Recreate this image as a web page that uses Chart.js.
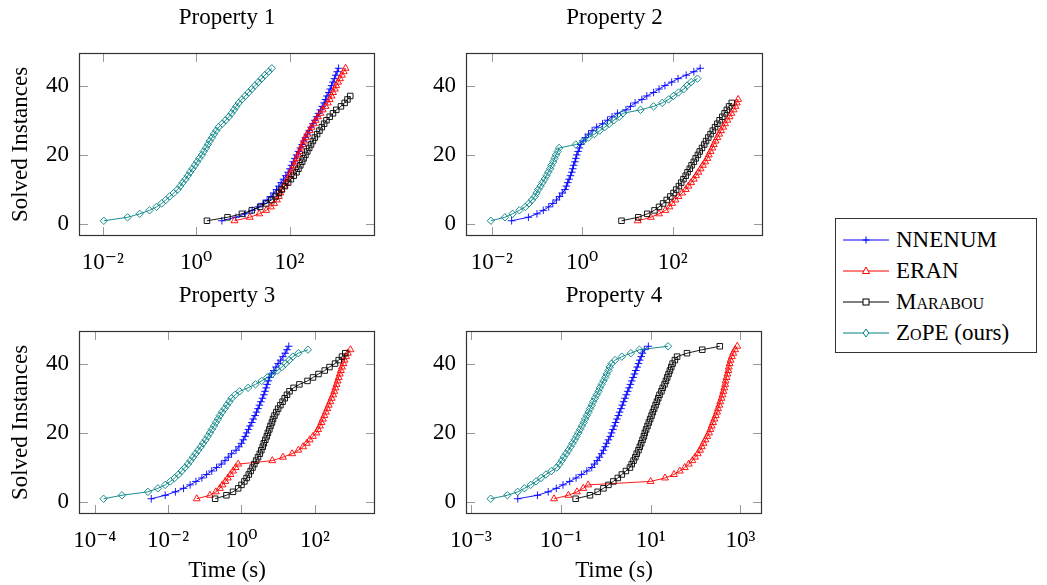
<!DOCTYPE html>
<html><head><meta charset="utf-8">
<script src="https://cdn.jsdelivr.net/npm/chart.js@4"></script>
<style>
html,body{margin:0;padding:0;background:#fff;overflow:hidden;width:1047px;height:585px;}
canvas.c{position:absolute;}
#legend{position:absolute;left:835px;top:218px;width:202px;height:135px;border:1px solid #333;box-sizing:border-box;font-family:'Liberation Serif','DejaVu Serif',serif;font-size:23px;color:#000;background:#fff;}
.row{position:absolute;left:7px;height:30px;display:flex;align-items:center;white-space:nowrap;}
.row svg{width:46px;height:14px;margin-right:7px;flex:none;}
.sc{font-variant:small-caps;}
</style></head><body>
<canvas id="c1" class="c" width="454" height="282" style="left:0px;top:0px;width:454px;height:282px"></canvas>
<canvas id="c2" class="c" width="417" height="282" style="left:406px;top:0px;width:417px;height:282px"></canvas>
<canvas id="c3" class="c" width="454" height="307" style="left:0px;top:278px;width:454px;height:307px"></canvas>
<canvas id="c4" class="c" width="416" height="307" style="left:406px;top:278px;width:416px;height:307px"></canvas>
<div id="legend">
  <div class="row" style="top:6px"><svg viewBox="0 0 46 14"><line x1="0" y1="7" x2="46" y2="7" stroke="#0000ff" stroke-width="1"/><path d="M19.5 7 H26.5 M23 3.5 V10.5" stroke="#0000ff" stroke-width="1"/></svg><span>NNENUM</span></div>
  <div class="row" style="top:37px"><svg viewBox="0 0 46 14"><line x1="0" y1="7" x2="46" y2="7" stroke="#ff0000" stroke-width="1"/><path d="M23 3 L26.5 9.5 L19.5 9.5 Z" fill="#fff" stroke="#ff0000" stroke-width="1"/></svg><span>ERAN</span></div>
  <div class="row" style="top:68px"><svg viewBox="0 0 46 14"><line x1="0" y1="7" x2="46" y2="7" stroke="#000" stroke-width="1"/><rect x="20" y="4" width="6" height="6" fill="#fff" stroke="#000" stroke-width="1"/></svg><span class="sc">Marabou</span></div>
  <div class="row" style="top:99px"><svg viewBox="0 0 46 14"><line x1="0" y1="7" x2="46" y2="7" stroke="#008080" stroke-width="1"/><path d="M23 3 L25.8 7 L23 11 L20.2 7 Z" fill="#fff" stroke="#008080" stroke-width="1"/></svg><span>Z<span class="sc">o</span>PE (ours)</span></div>
</div>
<script>
// ---------- data (time in seconds for the k-th solved instance) ----------
const p1_nnenum = [3.55, 7.08, 11.2, 15.8, 21.4, 26.9, 33.1, 39.8, 45.7, 52.5, 58.9, 66.1, 74.1, 83.2, 93.3, 102, 110, 120, 129, 141, 155, 170, 186, 200, 219, 240, 263, 288, 316, 347, 380, 417, 457, 501, 550, 589, 631, 692, 741, 794, 851, 912, 977, 1047, 1122];
const p1_eran = [6.61, 14.1, 22.4, 31.6, 39.8, 46.8, 53.7, 58.9, 63.1, 67.6, 75.9, 83.2, 91.2, 100, 107, 115, 126, 135, 145, 155, 166, 178, 191, 204, 219, 240, 269, 295, 331, 363, 407, 457, 513, 589, 661, 724, 794, 851, 933, 1000, 1096, 1202, 1318, 1445, 1585];
const p1_marabou = [1.70, 4.68, 9.55, 15.5, 23.4, 31.6, 40.7, 50.1, 58.9, 67.6, 79.4, 93.3, 107, 123, 141, 155, 170, 186, 200, 219, 240, 263, 288, 316, 347, 389, 437, 490, 550, 617, 724, 851, 1000, 1259, 1514, 1738, 1995];
const p1_zope = [0.0105, 0.0339, 0.0617, 0.100, 0.141, 0.182, 0.224, 0.269, 0.331, 0.398, 0.457, 0.513, 0.589, 0.661, 0.741, 0.832, 0.933, 1.05, 1.17, 1.32, 1.45, 1.62, 1.78, 1.95, 2.19, 2.40, 2.69, 3.02, 3.63, 4.27, 5.01, 5.75, 6.46, 7.24, 8.13, 9.55, 11.2, 13.2, 15.5, 18.2, 21.4, 25.1, 29.5, 35.5, 41.7];

const p2_nnenum = [0.0275, 0.0646, 0.100, 0.138, 0.182, 0.224, 0.269, 0.316, 0.363, 0.417, 0.447, 0.479, 0.513, 0.550, 0.589, 0.617, 0.646, 0.692, 0.724, 0.759, 0.813, 0.871, 0.933, 1.05, 1.17, 1.38, 1.66, 2.09, 2.82, 3.63, 4.57, 6.03, 9.33, 11.7, 14.8, 20.9, 26.9, 38.0, 50.1, 67.6, 95.5, 132, 200, 295, 407];
const p2_eran = [17.0, 33.1, 50.1, 69.2, 85.1, 97.7, 115, 135, 162, 195, 224, 257, 295, 331, 372, 417, 468, 525, 589, 631, 692, 759, 813, 891, 977, 1072, 1175, 1318, 1445, 1622, 1820, 1995, 2239, 2455, 2630, 2818];
const p2_marabou = [7.41, 17.4, 27.5, 39.8, 50.1, 61.7, 74.1, 89.1, 105, 120, 138, 155, 174, 195, 214, 240, 263, 295, 324, 363, 398, 447, 501, 550, 617, 692, 776, 871, 977, 1096, 1259, 1413, 1585, 1778, 2042];
const p2_zope = [0.00955, 0.0195, 0.0288, 0.0407, 0.0550, 0.0661, 0.0776, 0.0891, 0.0977, 0.107, 0.120, 0.132, 0.148, 0.162, 0.178, 0.195, 0.209, 0.229, 0.245, 0.263, 0.288, 0.309, 0.724, 1.05, 1.38, 1.86, 2.45, 3.16, 3.98, 5.01, 6.61, 7.94, 19.5, 38.0, 58.9, 81.3, 105, 135, 178, 209, 257, 355];

const p3_nnenum = [0.00347, 0.00832, 0.0158, 0.0263, 0.0398, 0.0575, 0.0832, 0.112, 0.155, 0.209, 0.282, 0.355, 0.437, 0.537, 0.708, 0.851, 1.00, 1.12, 1.26, 1.38, 1.55, 1.70, 1.91, 2.09, 2.34, 2.57, 2.82, 3.09, 3.39, 3.72, 4.07, 4.37, 4.68, 5.01, 5.37, 5.89, 6.61, 7.59, 8.71, 10.0, 11.7, 13.5, 15.5, 17.4, 19.5];
const p3_eran = [0.0603, 0.138, 0.200, 0.257, 0.302, 0.363, 0.427, 0.501, 0.589, 0.692, 0.813, 6.92, 13.5, 24.0, 35.5, 47.9, 60.3, 72.4, 89.1, 110, 123, 138, 151, 166, 182, 200, 219, 240, 263, 288, 316, 339, 363, 389, 417, 447, 479, 513, 550, 603, 646, 708, 794, 933];
const p3_marabou = [0.191, 0.389, 0.589, 0.813, 1.00, 1.20, 1.38, 1.58, 1.78, 2.00, 2.24, 2.51, 2.82, 3.16, 3.47, 3.80, 4.07, 4.47, 4.90, 5.25, 5.75, 6.17, 6.76, 7.24, 7.94, 8.91, 10.0, 11.5, 13.2, 15.1, 17.4, 20.4, 26.3, 38.0, 63.1, 89.1, 126, 186, 251, 355, 447, 550, 676];
const p3_zope = [0.000174, 0.000550, 0.00282, 0.00525, 0.00832, 0.0115, 0.0151, 0.0191, 0.0234, 0.0288, 0.0347, 0.0407, 0.0479, 0.0562, 0.0661, 0.0776, 0.0891, 0.105, 0.120, 0.138, 0.155, 0.178, 0.200, 0.229, 0.257, 0.295, 0.347, 0.398, 0.468, 0.537, 0.676, 0.891, 1.51, 2.40, 3.55, 5.01, 6.92, 9.55, 12.6, 15.8, 20.0, 25.1, 35.5, 64.6];

const p4_nnenum = [0.0110, 0.0302, 0.0525, 0.0794, 0.112, 0.158, 0.219, 0.288, 0.380, 0.490, 0.562, 0.646, 0.724, 0.813, 0.891, 0.977, 1.05, 1.15, 1.26, 1.35, 1.45, 1.55, 1.66, 1.78, 1.91, 2.04, 2.19, 2.34, 2.51, 2.69, 2.88, 3.09, 3.31, 3.55, 3.80, 4.07, 4.37, 4.68, 5.01, 5.37, 5.75, 6.17, 6.61, 7.24, 8.91];
const p4_eran = [0.0708, 0.148, 0.229, 0.316, 0.407, 10.0, 20.9, 33.1, 44.7, 57.5, 70.8, 85.1, 97.7, 112, 126, 138, 151, 166, 182, 200, 214, 229, 245, 263, 282, 302, 316, 339, 355, 380, 398, 417, 437, 457, 468, 490, 513, 537, 550, 575, 603, 646, 692, 759, 851];
const p4_marabou = [0.214, 0.447, 0.661, 0.891, 1.15, 1.48, 1.86, 2.29, 2.82, 3.47, 3.80, 4.17, 4.57, 4.90, 5.37, 5.75, 6.17, 6.61, 7.08, 7.41, 7.94, 8.51, 9.12, 9.77, 10.5, 11.2, 12.0, 12.9, 13.8, 14.8, 15.8, 17.4, 18.6, 20.4, 21.9, 23.4, 25.1, 26.9, 28.8, 30.9, 34.7, 38.9, 64.6, 141, 347];
const p4_zope = [0.00275, 0.00646, 0.0110, 0.0155, 0.0214, 0.0282, 0.0363, 0.0468, 0.0617, 0.0813, 0.0933, 0.105, 0.117, 0.132, 0.148, 0.166, 0.182, 0.204, 0.224, 0.245, 0.269, 0.295, 0.324, 0.347, 0.380, 0.417, 0.447, 0.490, 0.525, 0.575, 0.631, 0.692, 0.741, 0.813, 0.891, 0.977, 1.05, 1.15, 1.23, 1.35, 1.62, 2.29, 3.63, 5.62, 24.5];

// ---------- ticks ----------
const p12XTicks = [0.01, 1, 100];
const p12XLabels = ['10\u207B\u00B2', '10\u2070', '10\u00B2'];
const p3XTicks = [0.0001, 0.01, 1, 100];
const p3XLabels = ['10\u207B\u2074', '10\u207B\u00B2', '10\u2070', '10\u00B2'];
const p4XTicks = [0.001, 0.1, 10, 1000];
const p4XLabels = ['10\u207B\u00B3', '10\u207B\u00B9', '10\u00B9', '10\u00B3'];
const yTicks = [0, 20, 40];
const yLabels = ['0', '20', '40'];

const titles = ['Property 1', 'Property 2', 'Property 3', 'Property 4'];
const seriesNames = ['NNENUM', 'ERAN', 'Marabou', 'ZoPE (ours)'];

// ---------- styling ----------
const FAMILY = "'Liberation Serif', 'DejaVu Serif', serif";
const FONT = {family: FAMILY, size: 23, weight: 'normal', lineHeight: 1.2};
const styles = [
  {color: '#0000ff', pointStyle: 'cross', r: 3.8, order: 3},
  {color: '#ff0000', pointStyle: 'triangle', r: 4.0, order: 2},
  {color: '#000000', pointStyle: 'rect', r: 3.9, order: 1},
  {color: '#008080', pointStyle: 'rectRot', r: 3.7, order: 0}
];

const framePlugin = {
  id: 'frame',
  beforeDatasetsDraw(chart) {
    const {ctx, chartArea: a, scales: {x, y}} = chart;
    ctx.save();
    ctx.strokeStyle = '#9a9a9a';
    ctx.lineWidth = 1;
    ctx.beginPath();
    const L = 9;
    x.ticks.forEach(t => {
      const px = Math.round(x.getPixelForValue(t.value)) + 0.5;
      ctx.moveTo(px, a.bottom); ctx.lineTo(px, a.bottom - L);
      ctx.moveTo(px, a.top); ctx.lineTo(px, a.top + L);
    });
    y.ticks.forEach(t => {
      const py = Math.round(y.getPixelForValue(t.value)) + 0.5;
      ctx.moveTo(a.left, py); ctx.lineTo(a.left + L, py);
      ctx.moveTo(a.right, py); ctx.lineTo(a.right - L, py);
    });
    ctx.stroke();
    ctx.restore();
  },
  afterDraw(chart) {
    const {ctx, chartArea: a} = chart;
    ctx.save();
    ctx.strokeStyle = '#333';
    ctx.lineWidth = 1.2;
    ctx.strokeRect(a.left + 0.5, a.top + 0.5, a.right - a.left - 1, a.bottom - a.top - 1);
    ctx.restore();
  }
};

function makeChart(id, title, series, xMin, xMax, xTicks, xLabels, opt) {
  const datasets = series.map((vals, s) => ({
    label: seriesNames[s],
    data: vals.map((t, i) => ({x: t, y: i + 1})),
    borderColor: styles[s].color,
    backgroundColor: styles[s].color,
    pointBorderColor: styles[s].color,
    pointBackgroundColor: 'rgba(255,255,255,0)',
    pointStyle: styles[s].pointStyle,
    pointRadius: styles[s].r,
    pointBorderWidth: 0.9,
    borderWidth: 0.9,
    tension: 0,
    fill: false,
    order: styles[s].order
  }));
  return new Chart(document.getElementById(id), {
    type: 'line',
    data: {datasets},
    plugins: [framePlugin],
    options: {
      responsive: false,
      animation: false,
      devicePixelRatio: 1,
      events: [],
      layout: {padding: {left: 0, right: opt.R, top: 0, bottom: 0}},
      plugins: {
        legend: {display: false},
        tooltip: {enabled: false},
        title: {display: true, text: title, fullSize: false, color: '#000', font: FONT, padding: {top: 4, bottom: 21.4}}
      },
      scales: {
        x: {
          type: 'logarithmic', position: 'bottom', min: xMin, max: xMax, bounds: 'data',
          grid: {display: false, drawTicks: false}, border: {display: false},
          ticks: {color: '#000', font: FONT, padding: 13, autoSkip: false, maxRotation: 0,
                  callback: function(v, i) { return xLabels[i]; }},
          afterBuildTicks: ax => { ax.ticks = xTicks.map(v => ({value: v})); },
          afterFit: ax => { ax.height = opt.B; },
          title: {display: opt.showX, text: 'Time (s)', color: '#000', font: FONT, padding: {top: 0, bottom: 0}}
        },
        y: {
          type: 'linear', position: 'left', min: -3.4, max: 49.4, bounds: 'data',
          grid: {display: false, drawTicks: false}, border: {display: false},
          ticks: {color: '#000', font: FONT, padding: 10,
                  callback: function(v, i) { return yLabels[i]; }},
          afterBuildTicks: ax => { ax.ticks = yTicks.map(v => ({value: v})); },
          afterFit: ax => { ax.width = opt.L; },
          title: {display: opt.showY, text: 'Solved Instances', color: '#000', font: FONT, padding: {top: 7, bottom: 0}}
        }
      }
    }
  });
}

makeChart('c1', titles[0], [p1_nnenum, p1_eran, p1_marabou, p1_zope], 0.00309, 6760, p12XTicks, p12XLabels,
  {L: 79, R: 79, B: 46, showX: false, showY: true});
makeChart('c2', titles[1], [p2_nnenum, p2_eran, p2_marabou, p2_zope], 0.00269, 10000, p12XTicks, p12XLabels,
  {L: 60, R: 60, B: 46, showX: false, showY: false});
makeChart('c3', titles[2], [p3_nnenum, p3_eran, p3_marabou, p3_zope], 0.0000372, 4365, p3XTicks, p3XLabels,
  {L: 79, R: 79, B: 71, showX: true, showY: true});
makeChart('c4', titles[3], [p4_nnenum, p4_eran, p4_marabou, p4_zope], 0.000776, 3020, p4XTicks, p4XLabels,
  {L: 60, R: 60, B: 71, showX: true, showY: false});
</script>
</body></html>
